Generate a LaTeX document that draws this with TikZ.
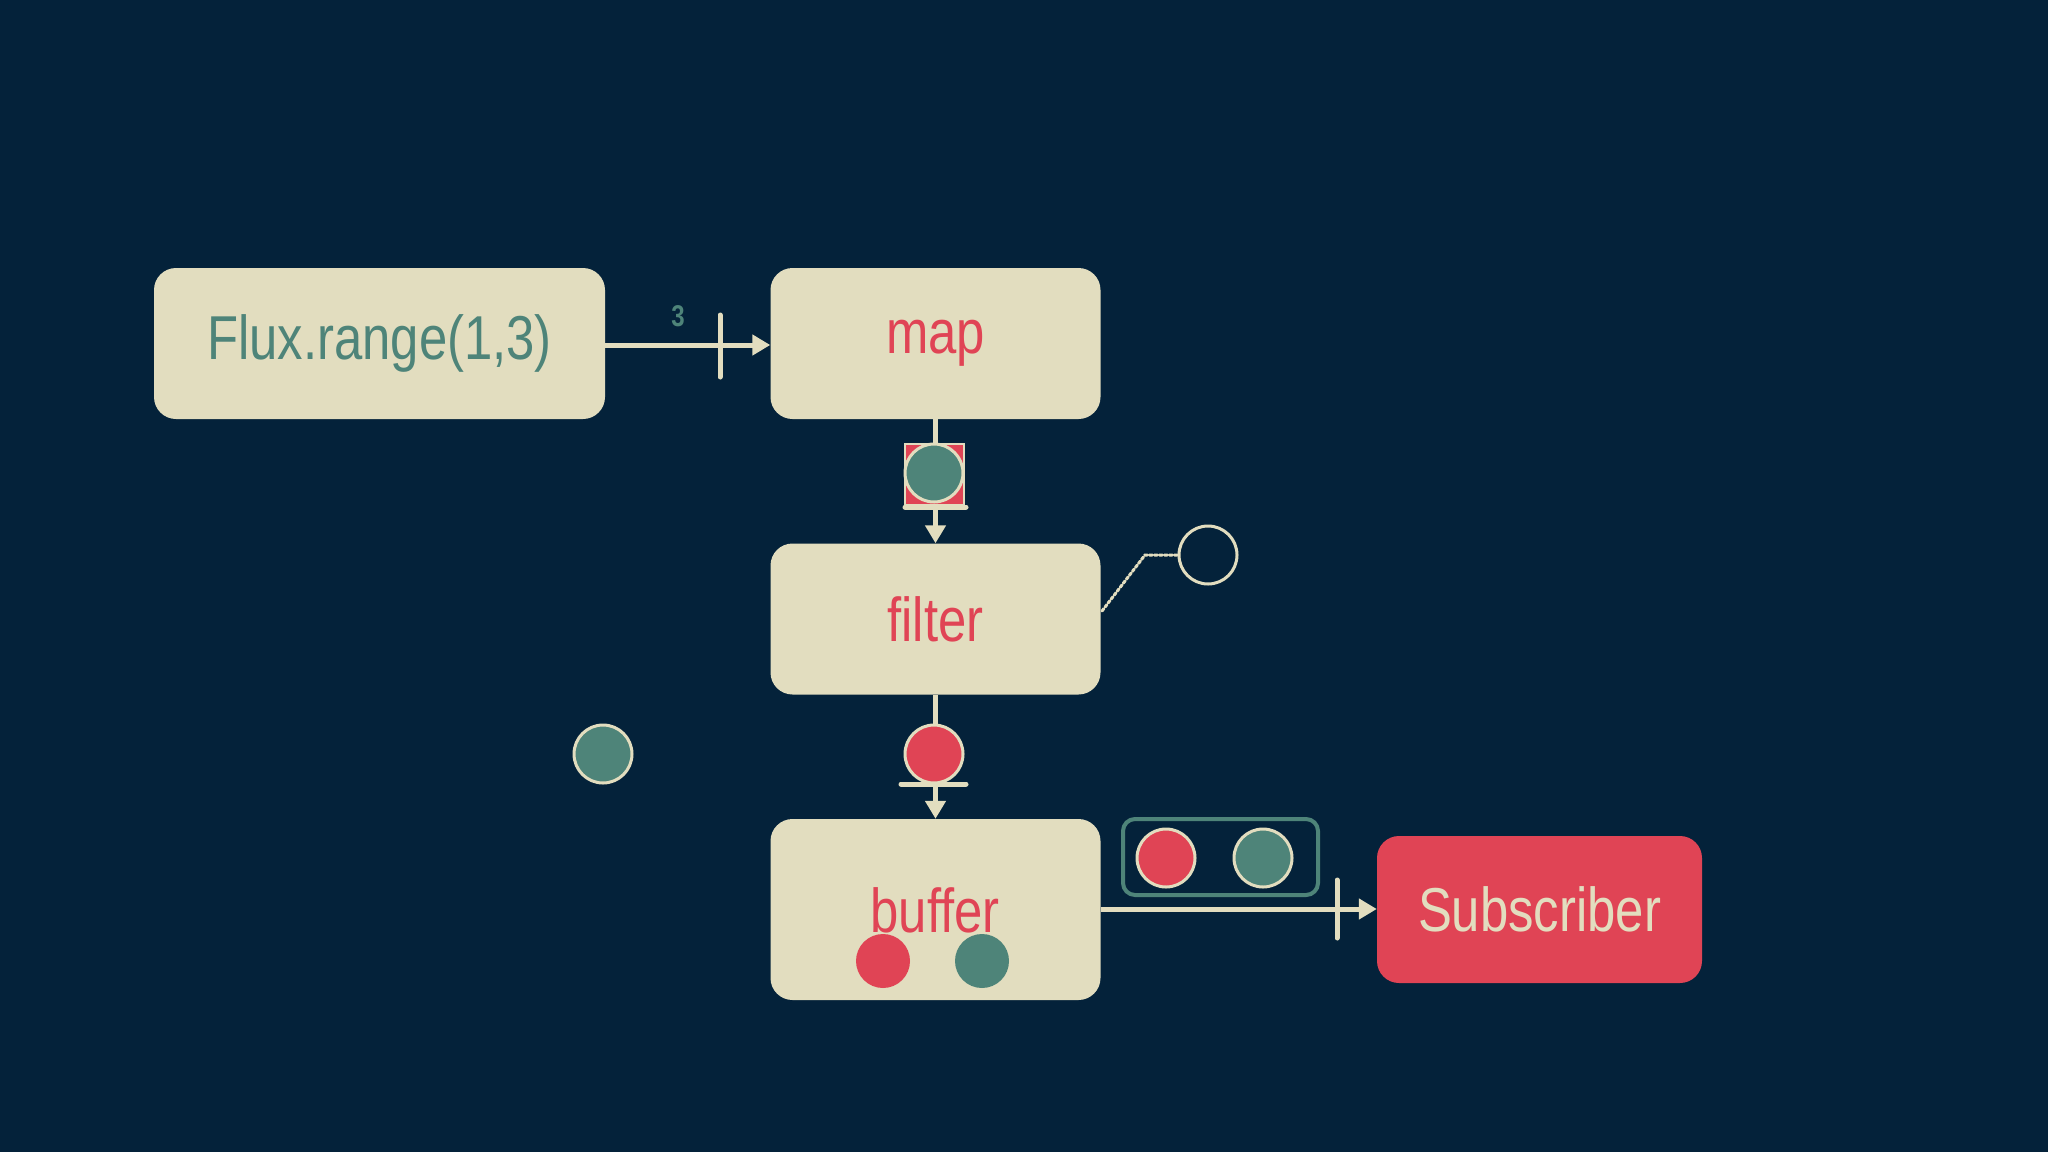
\documentclass[tikz,border=0pt]{standalone}
\usepackage{fontspec}
\setmainfont{Liberation Sans}
\usetikzlibrary{arrows.meta}
\definecolor{bg}{HTML}{04223A}
\definecolor{cream}{HTML}{E2DDBF}
\definecolor{teal}{HTML}{4E8479}
\definecolor{red}{HTML}{E04455}
\tikzset{
 box/.style={draw=none,fill=cream,rounded corners=22pt,minimum width=330pt,minimum height=151pt,inner sep=0},
 lbl/.style={font=\fontsize{62}{62}\selectfont,xscale=0.82},
 conn/.style={draw=cream,line width=5pt,-{Triangle[length=18pt,width=20pt]}},
 tick/.style={draw=cream,line width=5pt,line cap=round},
 dot/.style={circle,minimum size=58pt,inner sep=0,draw=cream,line width=3pt},
}
\begin{document}
\begin{tikzpicture}[x=1pt,y=-1pt]
\fill[bg] (0,0) rectangle (2048,1152);
\useasboundingbox (0,0) rectangle (2048,1152);
\node[box,minimum width=451pt] (flux) at (379.5,343.5) {};
\node[lbl,text=teal] at (flux) {Flux.range(1,3)};
\node[box] (map) at (935.5,343.5) {};
\node[lbl,text=red] at (map) {map};
\node[box] (filter) at (935.5,619) {};
\node[lbl,text=red] at (filter) {filter};
\node[box,minimum height=181pt] (buffer) at (935.5,909.5) {};
\node[box,fill=red,minimum width=325pt,minimum height=147pt] (sub) at (1539.5,909.5) {};
\node[lbl,text=cream] at (sub) {Subscriber};
% flux -> map
\draw[conn] (flux.east |- 0,345) -- (map.west |- 0,345);
\draw[tick] (720,315) -- (720,377);
\node[text=teal,font=\bfseries\fontsize{30}{30}\selectfont,xscale=0.8] (three) at (678,316) {3};
% map -> filter
\draw[conn] (map.south) -- (filter.north);
\fill[red,draw=cream,line width=2pt] (905,444) rectangle (964,505);
\node[dot,fill=teal] (c1) at (934,473) {};
\draw[tick] (905,507) -- (966,507);
% filter -> buffer
\draw[conn] (filter.south) -- (buffer.north);
\node[dot,fill=red] (c2) at (934,754) {};
\draw[tick] (901,784) -- (966,784);
\node[lbl,text=red] at (935,910) {buffer};
\node[circle,fill=red,minimum size=54pt,inner sep=0] (b1) at (883,961) {};
\node[circle,fill=teal,minimum size=54pt,inner sep=0] (b2) at (982,961) {};
% stray
\node[dot,fill=teal] (c3) at (603,754) {};
\node[dot,fill=none] (hollow) at (1208,555) {};
\coordinate (bend) at (1145,555);
\draw[cream,line width=3pt,dotted,line cap=round] (1102,611) -- (bend) -- (hollow.west);
% group
\draw[teal,line width=4pt,rounded corners=12pt] (1123,819) rectangle (1318,895);
\node[dot,fill=red] (g1) at (1166,858) {};
\node[dot,fill=teal] (g2) at (1263,858) {};
% buffer -> sub
\draw[conn] (buffer.east |- 0,909) -- (sub.west |- 0,909);
\draw[tick] (1337,880) -- (1337,938);
\end{tikzpicture}
\end{document}
